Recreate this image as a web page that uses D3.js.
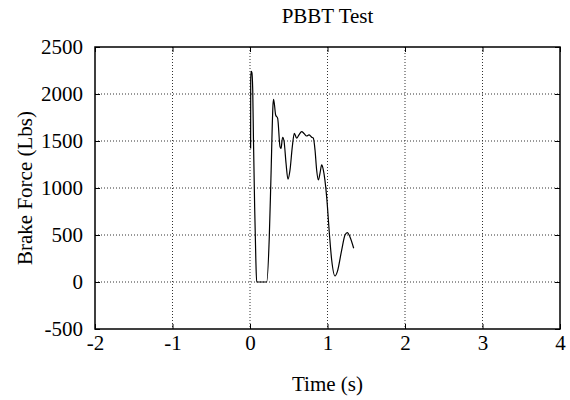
<!DOCTYPE html>
<html lang="en">
<head>
<meta charset="UTF-8">
<title>PBBT Test</title>
<style>
  body { margin: 0; background: #fff; }
  svg text { font-family: "Liberation Serif", "Times New Roman", serif; fill: #000; }
</style>
</head>
<body>
<div id="chart"></div>
<script src="https://d3js.org/d3.v7.min.js"></script>
<script>
// data
const timeS = [0.008, 0.009, 0.015, 0.024, 0.035, 0.045, 0.060, 0.075, 0.086, 0.215,
  0.249, 0.270, 0.298, 0.305, 0.331, 0.357, 0.387, 0.400, 0.421, 0.439, 0.465, 0.490,
  0.516, 0.546, 0.572, 0.602, 0.632, 0.667, 0.697, 0.731, 0.761, 0.796, 0.817, 0.839,
  0.860, 0.882, 0.903, 0.925, 0.946, 0.989, 1.024, 1.054, 1.097, 1.127, 1.183, 1.226,
  1.256, 1.290, 1.338];
const brakeForce = [1420, 2150, 2240, 2230, 2050, 1500, 800, 250, 0, 0,
  480, 1100, 1900, 1944, 1777, 1741, 1440, 1420, 1540, 1500, 1263, 1093,
  1190, 1440, 1582, 1529, 1565, 1600, 1580, 1553, 1565, 1540, 1530, 1404,
  1192, 1085, 1156, 1245, 1192, 908, 518, 234, 64, 110, 340, 500,
  525, 480, 359];
const xTicks = [-2, -1, 0, 1, 2, 3, 4];
const yTicks = [-500, 0, 500, 1000, 1500, 2000, 2500];

const W = 570, H = 400;
const margin = { top: 47, right: 10, bottom: 71, left: 95 };
const w = W - margin.left - margin.right;
const h = H - margin.top - margin.bottom;
const fontSize = "21px";

const svg = d3.select("#chart").append("svg")
  .attr("width", W).attr("height", H);

const g = svg.append("g")
  .attr("transform", `translate(${margin.left},${margin.top})`);

const x = d3.scaleLinear().domain([-2, 4]).range([0, w]);
const y = d3.scaleLinear().domain([-500, 2500]).range([h, 0]);

// dotted grid
g.append("g").selectAll("line")
  .data(xTicks.slice(1, -1)).enter().append("line")
  .attr("x1", d => x(d)).attr("x2", d => x(d))
  .attr("y1", 0).attr("y2", h)
  .attr("stroke", "#333").attr("stroke-width", 1)
  .attr("stroke-dasharray", "1,2");
g.append("g").selectAll("line")
  .data(yTicks.slice(1, -1)).enter().append("line")
  .attr("x1", 0).attr("x2", w)
  .attr("y1", d => y(d)).attr("y2", d => y(d))
  .attr("stroke", "#333").attr("stroke-width", 1)
  .attr("stroke-dasharray", "1,2");

// axes with inward ticks, mirrored
const tickLen = 5;
const fmt = d => String(d);
const xb = g.append("g").attr("transform", `translate(0,${h})`)
  .call(d3.axisBottom(x).tickValues(xTicks).tickSizeInner(-tickLen).tickSizeOuter(0).tickPadding(6).tickFormat(fmt));
const xt = g.append("g")
  .call(d3.axisTop(x).tickValues(xTicks).tickSizeInner(-tickLen).tickSizeOuter(0).tickFormat(""));
const yl = g.append("g")
  .call(d3.axisLeft(y).tickValues(yTicks).tickSizeInner(-tickLen).tickSizeOuter(0).tickPadding(12).tickFormat(fmt));
const yr = g.append("g").attr("transform", `translate(${w},0)`)
  .call(d3.axisRight(y).tickValues(yTicks).tickSizeInner(-tickLen).tickSizeOuter(0).tickFormat(""));

[xb, xt, yl, yr].forEach(a => {
  a.select(".domain").remove();
  a.selectAll("line").attr("stroke", "#000");
  a.selectAll("text").style("font-size", fontSize)
    .style("font-family", "'Liberation Serif', serif");
});

// frame
g.append("rect").attr("x", 0).attr("y", 0).attr("width", w).attr("height", h)
  .attr("fill", "none").attr("stroke", "#000").attr("stroke-width", 1.5);

// series
const line = d3.line()
  .curve(d3.curveMonotoneX)
  .x((d, i) => x(timeS[i]))
  .y(d => y(d));
g.append("path").datum(brakeForce)
  .attr("d", line)
  .attr("fill", "none")
  .attr("stroke", "#000")
  .attr("stroke-width", 1.2);

// labels
svg.append("text").attr("x", margin.left + w / 2).attr("y", 23)
  .attr("text-anchor", "middle").style("font-size", fontSize).text("PBBT Test");
svg.append("text").attr("x", margin.left + w / 2).attr("y", 391)
  .attr("text-anchor", "middle").style("font-size", fontSize).text("Time (s)");
svg.append("text")
  .attr("transform", `translate(32,${margin.top + h / 2}) rotate(-90)`)
  .attr("text-anchor", "middle").style("font-size", fontSize).text("Brake Force (Lbs)");
</script>
</body>
</html>
